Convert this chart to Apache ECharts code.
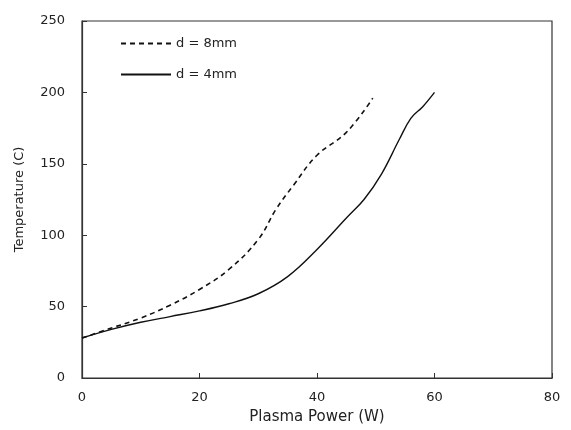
<!DOCTYPE html>
<html><head><meta charset="utf-8">
<script src="https://cdn.jsdelivr.net/npm/echarts@6/dist/echarts.min.js"></script>
<style>html,body{margin:0;padding:0;background:#fff}#c{width:571px;height:430px}</style>
</head><body><div id="c"></div>
<script>
const seriesNames = ['d = 8mm', 'd = 4mm'];
const power8 = [0, 5, 10, 15, 20, 25, 30, 33, 36, 40, 45, 49.5];
const temp8  = [28, 35, 42, 51, 62, 76, 97, 118, 135, 156, 172, 196];
const power4 = [0, 5, 10, 15, 20, 25, 30, 35, 40, 45, 48, 51, 54, 56, 58, 60];
const temp4  = [28, 34, 39, 43, 47, 52, 59, 71, 90, 112, 125, 143, 167, 182, 190, 200];
const xTicks = [0, 20, 40, 60, 80];
const yTicks = [0, 50, 100, 150, 200, 250];

const font = 'DejaVu Sans';
const chart = echarts.init(document.getElementById('c'));
const pair = (xs, ys) => xs.map((x, i) => [x, ys[i]]);
chart.setOption({
  animation: false,
  grid: { left: 82, right: 19, top: 21, bottom: 51, show: true, borderColor: '#333', borderWidth: 1.2, backgroundColor: 'transparent' },
  legend: {
    orient: 'vertical', left: 115, top: 32, itemWidth: 50, itemHeight: 14, itemGap: 18,
    itemStyle: { opacity: 0, borderWidth: 0 },
    data: seriesNames.map(n => ({ name: n })),
    textStyle: { fontFamily: font, fontSize: 13, color: '#222' }
  },
  xAxis: {
    type: 'value', min: 0, max: 80, interval: 20,
    name: 'Plasma Power (W)', nameLocation: 'middle', nameGap: 32,
    nameTextStyle: { fontFamily: font, fontSize: 15, color: '#222' },
    axisLine: { lineStyle: { color: '#333', width: 1.2 } },
    axisTick: { inside: true, length: 5, lineStyle: { color: '#333' } },
    axisLabel: { fontFamily: font, fontSize: 13, color: '#222', margin: 13 },
    splitLine: { show: false }
  },
  yAxis: {
    type: 'value', min: 0, max: 250, interval: 50,
    name: 'Temperature (C)', nameLocation: 'middle', nameGap: 56,
    nameTextStyle: { fontFamily: font, fontSize: 13, color: '#222' },
    axisLine: { show: true, lineStyle: { color: '#333', width: 1.2 } },
    axisTick: { show: true, inside: true, length: 5, lineStyle: { color: '#333' } },
    axisLabel: { fontFamily: font, fontSize: 13, color: '#222', margin: 17 },
    splitLine: { show: false }
  },
  series: [
    { name: seriesNames[0], type: 'line', smooth: 0.4, symbol: 'none', data: pair(power8, temp8),
      lineStyle: { color: '#111', width: 1.6, type: [5, 4] }, itemStyle: { color: '#111' } },
    { name: seriesNames[1], type: 'line', smooth: 0.4, symbol: 'none', data: pair(power4, temp4),
      lineStyle: { color: '#111', width: 1.4, type: 'solid' }, itemStyle: { color: '#111' } }
  ]
});
</script></body></html>
